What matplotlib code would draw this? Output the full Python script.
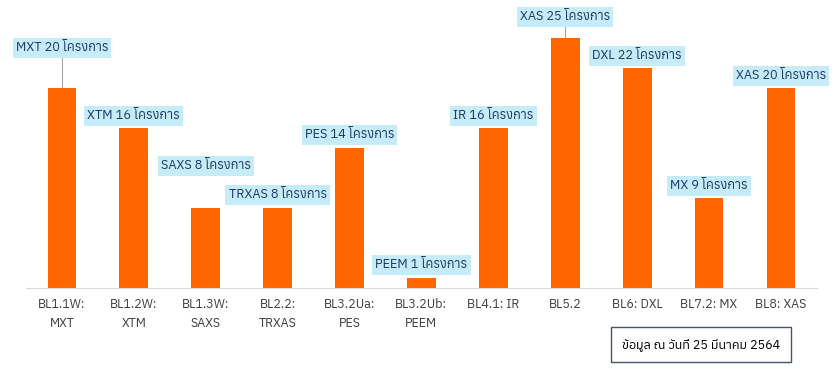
import matplotlib
matplotlib.use('Agg')
from matplotlib import pyplot as plt
from matplotlib import font_manager
from matplotlib.ft2font import FT2Font

categories = ['BL1.1W:\nMXT', 'BL1.2W:\nXTM', 'BL1.3W:\nSAXS', 'BL2.2:\nTRXAS', 'BL3.2Ua:\nPES',
              'BL3.2Ub:\nPEEM', 'BL4.1: IR', 'BL5.2', 'BL6: DXL', 'BL7.2: MX', 'BL8: XAS']
techniques = ['MXT', 'XTM', 'SAXS', 'TRXAS', 'PES', 'PEEM', 'IR', 'XAS', 'DXL', 'MX', 'XAS']
projects = [20, 16, 8, 8, 14, 1, 16, 25, 22, 9, 20]
note = 'ข้อมูล ณ วันที่ 25 มีนาคม 2564'

# find an installed font that has thai glyphs
thai_fonts = []
for f in font_manager.fontManager.ttflist:
    try:
        if 0x0E42 in FT2Font(f.fname).get_charmap():
            thai_fonts.append(f.name)
    except Exception:
        pass
families = sorted(set(thai_fonts)) + ['DejaVu Sans']
plt.rcParams['font.family'] = families

fig = plt.figure(figsize=(8.37, 3.75), dpi=100)
ax = fig.add_axes([0.031, 0.232, 0.945, 0.747])

x = range(len(projects))
ax.bar(x, projects, width=0.4, color='#ff6600', zorder=2)
ax.set_xlim(-0.5, len(projects) - 0.5)
ax.set_ylim(0, 28)
ax.set_yticks([])
for s in ['top', 'right', 'left']:
    ax.spines[s].set_visible(False)
ax.spines['bottom'].set_color('#d9d9d9')
ax.set_xticks(list(x))
ax.set_xticklabels(categories, fontsize=9, color='#404040', linespacing=1.65)
ax.tick_params(axis='x', length=0, pad=7)

# label heights above each bar
label_gap = [4.0, 1.2, 4.2, 1.3, 1.3, 1.3, 1.2, 2.1, 1.2, 1.2, 1.2]
leader = [True, False, False, False, False, False, False, True, False, False, False]
for i, (t, v) in enumerate(zip(techniques, projects)):
    y = v + label_gap[i]
    if leader[i]:
        ax.plot([i, i], [v, y - 0.6], color='#a6a6a6', lw=0.8, zorder=1)
    ax.text(i, y, f'{t} {v} โครงการ', ha='center', va='center', fontsize=9.2, color='#1f3864',
            bbox=dict(boxstyle='square,pad=0.25', fc='#c6ecfa', ec='none'), zorder=3)

fig.text(0.743, 0.082, note, ha='left', va='center', fontsize=9, color='black',
         bbox=dict(boxstyle='square,pad=0.9', fc='white', ec='#44546a', lw=1))

fig.savefig('out.png', dpi=100)
